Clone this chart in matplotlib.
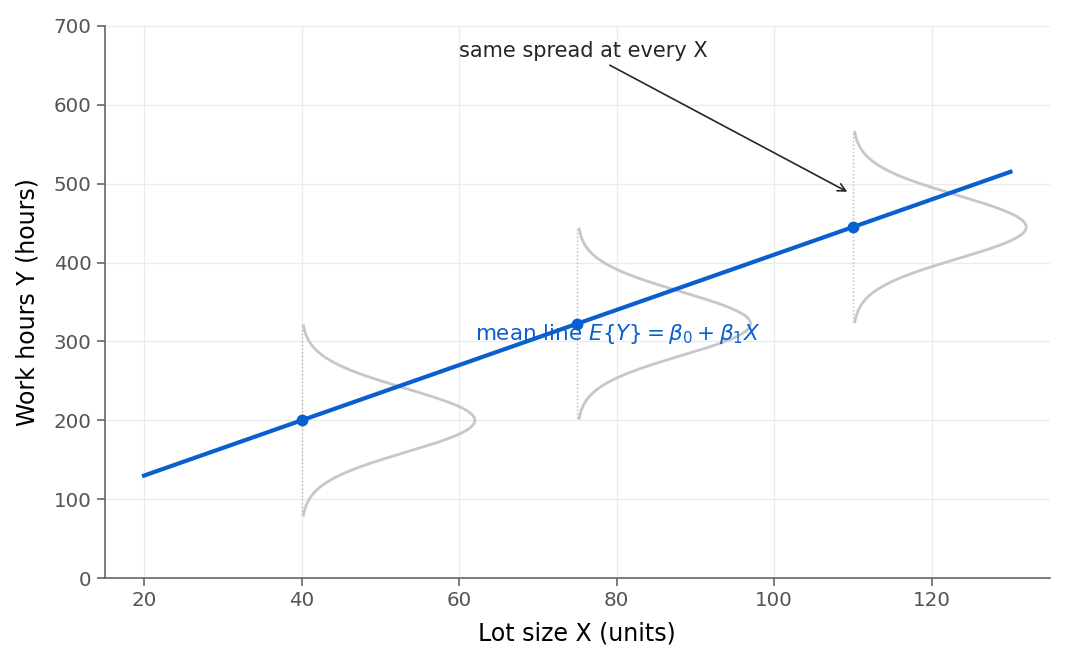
import numpy as np
import matplotlib as mpl
import matplotlib.pyplot as plt

# plot settings
mpl.rcParams['xtick.labelsize'] = 14.3
mpl.rcParams['ytick.labelsize'] = 14.3
mpl.rcParams['axes.labelsize'] = 17

# mean line E{Y} = b0 + b1*X
b0 = 60.0
b1 = 3.5
x_line = [20, 130]
# X levels where the error distribution is drawn
x_levels = [40, 75, 110]
sigma = 40.0        # same spread at every X
curve_width = 22.0  # horizontal size of the drawn density

blue = '#0a5fcf'
grey = '#c6c6cc'

fig, ax = plt.subplots(figsize=(10.68, 6.63), dpi=100)
fig.subplots_adjust(left=0.098, right=0.983, top=0.961, bottom=0.128)

xl = np.array(x_line, dtype=float)
ax.plot(xl, b0 + b1*xl, color=blue, lw=3, zorder=3)

yy = np.linspace(-3*sigma, 3*sigma, 300)
for x0 in x_levels:
  mu = b0 + b1*x0
  dens = np.exp(-0.5*(yy/sigma)**2)
  ax.plot([x0, x0], [mu - 3*sigma, mu + 3*sigma], color='#b8b8be', lw=1, ls=':', zorder=1)
  ax.plot(x0 + curve_width*dens, mu + yy, color=grey, lw=2, zorder=2)
  ax.plot(x0, mu, 'o', color=blue, ms=7.5, zorder=4)

ax.text(62, 310, r'mean line $E\{Y\} = \beta_0 + \beta_1 X$', color=blue, fontsize=15.5,
        ha='left', va='center', zorder=5)
ax.annotate('same spread at every X', xy=(109.6, 488), xytext=(60, 668),
            fontsize=15, color='#262626', ha='left', va='center',
            arrowprops=dict(arrowstyle='->', color='#262626', lw=1.2, mutation_scale=14))

ax.set_xlim(15, 135)
ax.set_ylim(0, 700)
ax.set_xticks([20, 40, 60, 80, 100, 120])
ax.set_yticks(range(0, 701, 100))
ax.grid(True, color='#ebebeb', lw=0.9)
ax.set_axisbelow(True)
for s in ['top', 'right']:
  ax.spines[s].set_visible(False)
for s in ['left', 'bottom']:
  ax.spines[s].set_color('#666666')
  ax.spines[s].set_linewidth(1.2)
ax.tick_params(colors='#666666', labelcolor='#555555', length=6, width=1.2)
ax.set_xlabel('Lot size X (units)', labelpad=8)
ax.set_ylabel('Work hours Y (hours)', labelpad=10)

plt.savefig('out.png', dpi=100)
